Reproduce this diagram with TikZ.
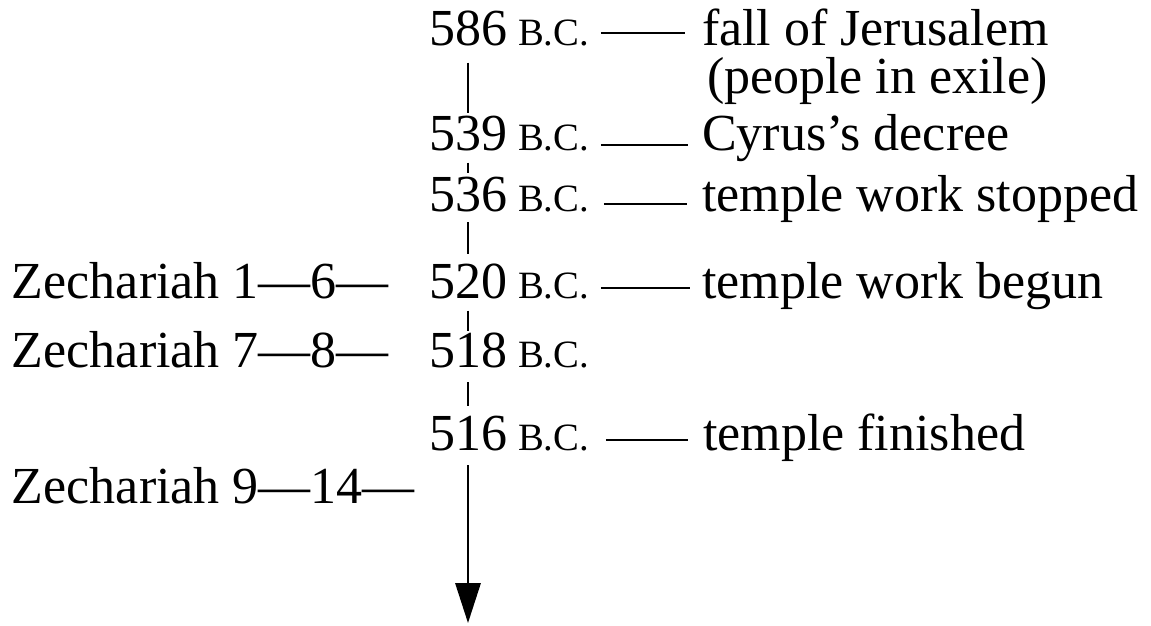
\documentclass[tikz,border=0pt]{standalone}
\usepackage{fontspec}
\setmainfont{Liberation Serif}
\usetikzlibrary{arrows.meta}
\begin{document}
\begin{tikzpicture}[x=0.75pt,y=-0.75pt,
  big/.style={inner sep=0pt, outer sep=0pt, font=\fontsize{39}{45}\selectfont, anchor=base west},
  yr/.style={big, anchor=base},
  bc/.style={inner sep=0pt, outer sep=0pt, font=\fontsize{29}{33}\selectfont, anchor=base west},
  conn/.style={line width=1.6pt},
  axis/.style={line width=1.6pt}]
\useasboundingbox (0,0) rectangle (1151,625);

% years
\node[yr] (y586) at (468,45) {586};
\node[yr] (y539) at (468,150) {539};
\node[yr] (y536) at (468,211) {536};
\node[yr] (y520) at (468,298) {520};
\node[yr] (y518) at (468,367) {518};
\node[yr] (y516) at (468,450) {516};
\coordinate (end) at (468,623);

% B.C.
\node[bc] (b586) at (518,45) {B.C.};
\node[bc] (b539) at (518,150) {B.C.};
\node[bc] (b536) at (518,211) {B.C.};
\node[bc] (b520) at (518,298) {B.C.};
\node[bc] (b518) at (518,367) {B.C.};
\node[bc] (b516) at (518,450) {B.C.};

% events
\node[big] (t586) at (702,45) {fall of Jerusalem};
\node[big] (t586b) at (707,93) {(people in exile)};
\node[big] (t539) at (702,150) {Cyrus’s decree};
\node[big] (t536) at (702,211) {temple work stopped};
\node[big] (t520) at (702,298) {temple work begun};
\node[big] (t516) at (703,450) {temple finished};

% Zechariah
\node[big] (z1) at (12,298) {Zechariah 1—6—};
\node[big] (z2) at (12,367) {Zechariah 7—8—};
\node[big] (z3) at (12,503) {Zechariah 9—14—};

% axis
\draw[axis, shorten <=12.75pt, shorten >=2pt] (y586.south) -- (y539.north);
\draw[axis, shorten <=9pt, shorten >=3pt] (y539.south) -- (y536.north);
\draw[axis, shorten <=8pt, shorten >=7pt] (y536.south) -- (y520.north);
\draw[axis, shorten <=9pt, shorten >=1pt] (y520.south) -- (y518.north);
\draw[axis, shorten <=11pt, shorten >=7pt] (y518.south) -- (y516.north);
\draw[axis, shorten <=11pt, -{Triangle[length=30pt,width=19pt]}] (y516.south) -- (end);

% connectors
\draw[conn] ([shift={(12,-12)}]b586.base east) -- ([shift={(-17,-12)}]t586.base west);
\draw[conn] ([shift={(12,-5)}]b539.base east) -- ([shift={(-14,-5)}]t539.base west);
\draw[conn] ([shift={(15,-7)}]b536.base east) -- ([shift={(-15,-7)}]t536.base west);
\draw[conn] ([shift={(12,-10)}]b520.base east) -- ([shift={(-12,-10)}]t520.base west);
\draw[conn] ([shift={(17,-10)}]b516.base east) -- ([shift={(-15,-10)}]t516.base west);
\end{tikzpicture}
\end{document}
